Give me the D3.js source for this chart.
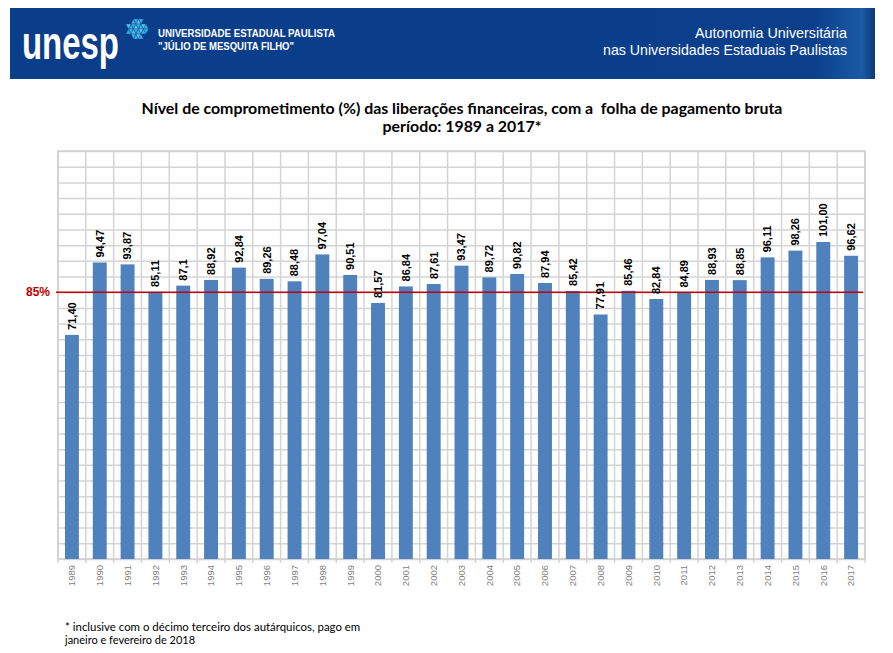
<!DOCTYPE html>
<html>
<head>
<meta charset="utf-8">
<script src="https://cdn.jsdelivr.net/npm/d3@7"></script>
<style>
html,body{margin:0;padding:0;background:#fff;}
svg{display:block;}
</style>
</head>
<body>
<script>
const years = ["1989","1990","1991","1992","1993","1994","1995","1996","1997","1998","1999","2000","2001","2002","2003","2004","2005","2006","2007","2008","2009","2010","2011","2012","2013","2014","2015","2016","2017"];
const values = [71.40,94.47,93.87,85.11,87.1,88.92,92.84,89.26,88.48,97.04,90.51,81.57,86.84,87.61,93.47,89.72,90.82,87.94,85.42,77.91,85.46,82.84,84.89,88.93,88.85,96.11,98.26,101.00,96.62];
const valueLabels = ["71,40","94,47","93,87","85,11","87,1","88,92","92,84","89,26","88,48","97,04","90,51","81,57","86,84","87,61","93,47","89,72","90,82","87,94","85,42","77,91","85,46","82,84","84,89","88,93","88,85","96,11","98,26","101,00","96,62"];
const yTicks = d3.range(0, 131, 5);
const reference = 85;
const referenceLabel = "85%";
const titleLines = ["Nível de comprometimento (%) das liberações financeiras, com a  folha de pagamento bruta", "período: 1989 a 2017*"];
const footLines = ["* inclusive com o décimo terceiro dos autárquicos, pago em", "janeiro e fevereiro de 2018"];
const headerLeft = ["UNIVERSIDADE ESTADUAL PAULISTA", "\"JÚLIO DE MESQUITA FILHO\""];
const headerRight = ["Autonomia Universitária", "nas Universidades Estaduais Paulistas"];

const W = 893, H = 653;
const svg = d3.select("body").append("svg").attr("width", W).attr("height", H);

function fit(sel, target) {
  const node = sel.node();
  let fs = parseFloat(sel.attr("font-size"));
  for (let i = 0; i < 4; i++) {
    const len = node.getComputedTextLength();
    if (len > 0) { fs = fs * target / len; sel.attr("font-size", fs.toFixed(2)); }
  }
  return fs;
}

// Header band
const defs = svg.append("defs");
const grad = defs.append("linearGradient").attr("id", "hg").attr("x1", "0").attr("x2", "1");
grad.append("stop").attr("offset", "0").attr("stop-color", "#0a3d8a");
grad.append("stop").attr("offset", "0.93").attr("stop-color", "#0b3f8c");
grad.append("stop").attr("offset", "0.985").attr("stop-color", "#1a5aa6");
grad.append("stop").attr("offset", "1").attr("stop-color", "#0c3a7a");
svg.append("rect").attr("x", 10).attr("y", 8).attr("width", 865).attr("height", 71).attr("fill", "url(#hg)");

svg.append("text").attr("x", 22).attr("y", 59).attr("fill", "#fff")
  .attr("font-family", "Liberation Sans, Arial, sans-serif").attr("font-weight", "bold")
  .attr("font-size", 47).attr("textLength", 97).attr("lengthAdjust", "spacingAndGlyphs").text("unesp");

// logo triangles
const tri = svg.append("g");
const s = 5, h = 5;
const rows = [[-1,1],[-2,2],[-2,2],[-1,1]];
const ox = 136, oy = 19;
rows.forEach((r, ri) => {
  for (let k = r[0]*2; k <= r[1]*2 - 1; k++) {
    const x0 = ox + k * s / 2, y0 = oy + ri * h;
    const up = ((k + ri) % 2 + 2) % 2 === 0;
    const pts = up ? [[x0, y0 + h], [x0 + s/2, y0], [x0 + s, y0 + h]] : [[x0, y0], [x0 + s, y0], [x0 + s/2, y0 + h]];
    tri.append("polygon").attr("points", pts.map(p => p.join(",")).join(" "))
      .attr("fill", ((k + ri) % 3 + 3) % 3 === 0 ? "#5cc3ee" : "#36aee3").attr("stroke", "#0b3f8c").attr("stroke-width", 0.35);
  }
});

headerLeft.forEach((t, i) => {
  svg.append("text").attr("x", 158).attr("y", 37 + i * 13).attr("fill", "#fff")
    .attr("font-family", "Liberation Sans, Arial, sans-serif").attr("font-size", 11).attr("font-weight", "bold")
    .attr("textLength", i === 0 ? 177 : 136).attr("lengthAdjust", "spacingAndGlyphs").text(t);
});
headerRight.forEach((t, i) => {
  const el = svg.append("text").attr("x", 847).attr("y", 38 + i * 17).attr("fill", "#fff")
    .attr("text-anchor", "end").attr("font-family", "Liberation Sans, Arial, sans-serif").attr("font-size", 14).text(t);
  fit(el, i === 0 ? 152 : 244);
});

// Title
const t1 = svg.append("text").attr("x", 462).attr("y", 114).attr("text-anchor", "middle")
  .attr("font-family", "Lato, Open Sans, sans-serif").attr("font-weight", "bold").attr("font-size", 14)
  .attr("fill", "#000").attr("xml:space", "preserve").text(titleLines[0]);
const tfs = fit(t1, 641);
svg.append("text").attr("x", 462).attr("y", 132).attr("text-anchor", "middle")
  .attr("font-family", "Lato, Open Sans, sans-serif").attr("font-weight", "bold").attr("font-size", tfs.toFixed(2))
  .attr("fill", "#000").text(titleLines[1]);

// Scales
const plot = { l: 58, r: 865, t: 151, b: 559 };
const x = d3.scaleBand().domain(years).range([plot.l, plot.r]).paddingInner(0.5).paddingOuter(0.25);
const y = d3.scaleLinear().domain([0, 130]).range([plot.b, plot.t]);

// horizontal grid via axis
const yAxis = d3.axisLeft(y).tickValues(yTicks).tickSize(-(plot.r - plot.l)).tickFormat("");
const gy = svg.append("g").attr("transform", `translate(${plot.l},0)`).call(yAxis);
gy.select(".domain").remove();
gy.selectAll("line").attr("stroke", "#d4d4d4").attr("stroke-width", 1.5);
// vertical grid lines at band boundaries
const step = x.step();
const vx = d3.range(years.length + 1).map(i => plot.l + i * step);
svg.append("g").attr("stroke", "#d4d4d4").attr("stroke-width", 1.5)
  .selectAll("line").data(vx).join("line")
  .attr("x1", d => d).attr("x2", d => d).attr("y1", plot.t).attr("y2", plot.b + 4);
svg.append("rect").attr("x", plot.l).attr("y", plot.t).attr("width", plot.r - plot.l).attr("height", plot.b - plot.t)
  .attr("fill", "none").attr("stroke", "#cfcfcf").attr("stroke-width", 1.5);

// Bars
svg.append("g").selectAll("rect").data(values).join("rect")
  .attr("x", (d, i) => x(years[i])).attr("width", x.bandwidth())
  .attr("y", d => y(d)).attr("height", d => plot.b - y(d)).attr("fill", "#4f81bd");

// Reference line
svg.append("line").attr("x1", 56).attr("x2", plot.r - 2).attr("y1", y(reference)).attr("y2", y(reference))
  .attr("stroke", "#c00000").attr("stroke-width", 1.5);
svg.append("text").attr("x", 50).attr("y", y(reference)).attr("dy", "0.35em").attr("text-anchor", "end")
  .attr("font-family", "Liberation Sans, Arial, sans-serif").attr("font-weight", "bold").attr("font-size", 12)
  .attr("fill", "#c00000").text(referenceLabel);

// Value labels
svg.append("g").selectAll("text").data(values).join("text")
  .attr("transform", (d, i) => `translate(${x(years[i]) + x.bandwidth() / 2},${y(d) - 5}) rotate(-90)`)
  .attr("dy", "0.35em").attr("text-anchor", "start")
  .attr("font-family", "Liberation Sans, Arial, sans-serif").attr("font-weight", "bold").attr("font-size", 11)
  .attr("fill", "#000").text((d, i) => valueLabels[i]);

// X axis labels
const xAxis = d3.axisBottom(x).tickSize(0).tickPadding(0);
const gx = svg.append("g").attr("transform", `translate(0,${plot.b})`).call(xAxis);
gx.select(".domain").remove();
gx.selectAll("text").attr("y", 0).attr("x", 0).attr("dy", "0.35em")
  .attr("text-anchor", "end").attr("transform", "translate(0,6) rotate(-90)")
  .attr("font-family", "Liberation Sans, Arial, sans-serif").attr("font-size", 9.5).attr("fill", "#7f7f7f");

// Footnote
footLines.forEach((t, i) => {
  const el = svg.append("text").attr("x", 65).attr("y", 631 + i * 13)
    .attr("font-family", "Lato, Open Sans, sans-serif").attr("font-size", 11).attr("fill", "#000").text(t);
  fit(el, i === 0 ? 295 : 130);
});
</script>
</body>
</html>
